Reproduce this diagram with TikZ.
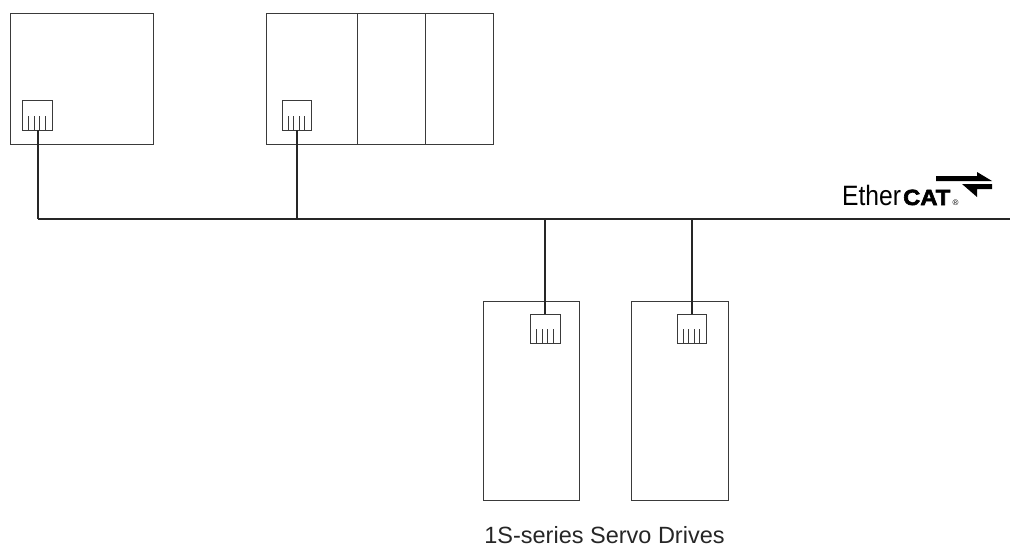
\documentclass[tikz,border=0pt]{standalone}
\usepackage{fontspec}
\setmainfont{Liberation Sans}
\newfontfamily\catfont[UprightFont=* Bold, FakeBold=2.6]{Liberation Sans}
\definecolor{linegray}{HTML}{3a3a3a}
\tikzset{
  unitbox/.style={draw=linegray, line width=1pt, minimum width=#1, inner sep=0pt, outer sep=0pt},
  portbox/.style={draw=linegray, line width=1pt, minimum width=29.5pt, minimum height=29.5pt, inner sep=0pt, outer sep=0pt},
  busline/.style={black!85, line width=2pt}
}
% one port: four contacts rising from its lower edge
\newcommand{\portpins}[1]{%
  \foreach \d in {-8.7,-3.2,2.2,7.8}
    \draw[linegray, line width=1pt] ([xshift=\d pt]#1.south) -- ++(0,-14.5);
}
\begin{document}
\begin{tikzpicture}[x=1pt, y=-1pt]
  \useasboundingbox (0,0) rectangle (1010,546);

  % controller and rack
  \node[unitbox=143.7pt, minimum height=130.3pt, anchor=north west] (ctrl) at (10,13.7) {};
  \node[unitbox=227pt, minimum height=130.3pt, anchor=north west] (rack) at (266,13.7) {};
  \draw[linegray, line width=1pt] (357,13.7) -- (357,144);
  \draw[linegray, line width=1pt] (425,13.7) -- (425,144);

  % servo drives
  \node[unitbox=96.5pt, minimum height=199.5pt, anchor=north west] (driveA) at (483,301) {};
  \node[unitbox=97pt, minimum height=199.5pt, anchor=north west] (driveB) at (631.3,301) {};

  % ports
  \node[portbox] (portctrl) at (37.5,115.5) {};
  \node[portbox] (portrack) at (297,115.5) {};
  \node[portbox] (portA) at (545.5,329) {};
  \node[portbox] (portB) at (692,329) {};
  \foreach \p in {portctrl,portrack,portA,portB} {
    \portpins{\p}
  }

  % bus
  \coordinate (busL) at (37.5,219);
  \coordinate (busR) at (1010,219);
  \draw[busline] (busL) -- (busR);
  \draw[busline] (portctrl.south) -- (busL);
  \draw[busline] (portrack.south) -- (portrack.south |- busL);
  \draw[busline] ([xshift=-0.5pt]portA.north) -- ([xshift=-0.5pt]portA.north |- busL);
  \draw[busline] (portB.north) -- (portB.north |- busL);

  % bus logo
  \node[anchor=base west, inner sep=0pt, font=\fontsize{28}{28}\selectfont, xscale=0.88] (ethertxt) at (842,205) {Ether};
  \node[anchor=base west, inner sep=0pt, font=\catfont\fontsize{22}{22}\selectfont, xscale=1.08] (cattxt) at (903,205) {CAT};
  \node[anchor=base west, inner sep=0pt, font=\fontsize{8}{8}\selectfont] (regmark) at (952.5,205.5) {®};
  \fill[black] (936,176) -- (977,176) -- (977,172) -- (992,181) -- (936,181) -- cycle;
  \fill[black] (992,184) -- (962,184) -- (977,197) -- (977,189) -- (992,189) -- cycle;

  % caption
  \node[anchor=base, inner sep=0pt, font=\fontsize{23.5}{26}\selectfont, text=black!85] (caption) at (604.5,543) {1S-series Servo Drives};
\end{tikzpicture}
\end{document}
